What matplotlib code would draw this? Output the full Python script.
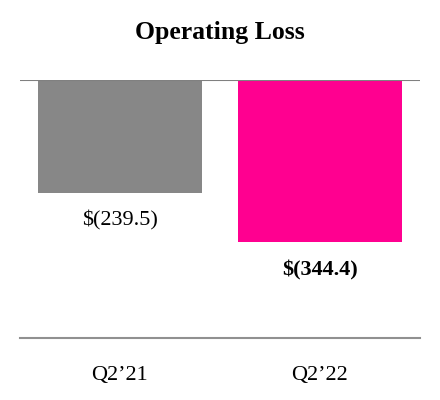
import matplotlib
matplotlib.use('Agg')
import matplotlib.pyplot as plt

# Operating loss by quarter ($ millions)
quarters = ['Q2\u201921', 'Q2\u201922']
losses = [-239.5, -344.4]
labels = ['$(239.5)', '$(344.4)']
colors = ['#878787', '#ff0090']

plt.rcParams['font.family'] = ['Liberation Serif', 'DejaVu Serif']

fig = plt.figure(figsize=(4.4, 4.0), dpi=100)
ax = fig.add_axes([20 / 440, 1 - 338 / 400, 400 / 440, 258 / 400])

x = list(range(len(quarters)))
bars = ax.bar(x, losses, width=0.82, color=colors, zorder=2)

ax.set_xlim(-0.5, 1.5)
ax.set_ylim(-547, 0)

# top zero line and bottom axis line
ax.axhline(0, color='#808080', linewidth=1.5, zorder=3)
for s in ['left', 'right', 'top']:
    ax.spines[s].set_visible(False)
ax.spines['bottom'].set_color('#909090')
ax.spines['bottom'].set_linewidth(1.5)

ax.set_yticks([])
ax.set_xticks(x)
ax.set_xticklabels(quarters, fontsize=16)
ax.tick_params(axis='x', length=0, pad=20)

for i, (bar, lab) in enumerate(zip(bars, labels)):
    ax.annotate(lab, xy=(bar.get_x() + bar.get_width() / 2, bar.get_height()),
                xytext=(0, -20), textcoords='offset points',
                ha='center', va='center', fontsize=16,
                fontweight='bold' if i == 1 else 'normal')

fig.text(0.5, 1 - 33 / 400, 'Operating Loss', ha='center', va='center',
         fontsize=18.5, fontweight='bold')

fig.savefig('out.png', dpi=100)
